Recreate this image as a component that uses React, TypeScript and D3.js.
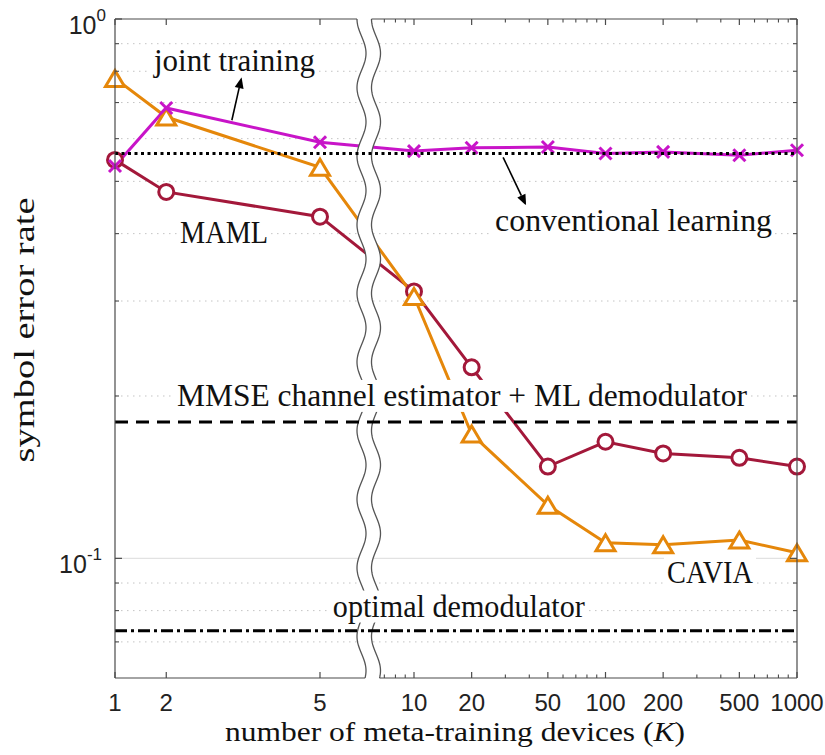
import React from "react";
import * as d3 from "d3";

// ---------- data ----------
const kValues = [1, 2, 5, 10, 20, 50, 100, 200, 500, 1000];
const kTickLabels = ["1", "2", "5", "10", "20", "50", "100", "200", "500", "1000"];
const mamlSER = [0.548, 0.478, 0.43, 0.3126, 0.226, 0.148, 0.1645, 0.1565, 0.1536, 0.148];
const caviaSER = [0.776, 0.658, 0.531, 0.3058, 0.17, 0.1255, 0.1069, 0.106, 0.1081, 0.1024];
const jointSER = [0.534, 0.684, 0.591, 0.569, 0.577, 0.579, 0.563, 0.567, 0.559, 0.571];
const conventionalSER = 0.563;
const mmseSER = 0.179;
const optimalSER = 0.0734;
const yMajorTicks = [0.1, 1];
const yMajorLabels = [{ base: "10", exp: "-1" }, { base: "10", exp: "0" }];
const yMinorTicks = [0.07, 0.08, 0.09, 0.2, 0.3, 0.4, 0.5, 0.6, 0.7, 0.8, 0.9];
const xMinorTicksRight = [7, 8, 9, 30, 40, 60, 70, 80, 90, 300, 400, 600, 700, 800, 900];

// annotations in data coordinates (K, SER)
const labelJoint = { k: 1.76, v: 0.8, text: "joint training" };
const labelMAML = { k: 2.27, v: 0.384, text: "MAML" };
const labelConv = { k: 26.5, v: 0.405, text: "conventional learning" };
const labelMMSE = { k: 2.21, v: 0.1917, text: "MMSE channel estimator + ML demodulator" };
const labelCAVIA = { k: 209.5, v: 0.09, text: "CAVIA" };
const labelOpt = { k: 5.25, v: 0.078, text: "optimal demodulator" };
const arrowJoint = { from: [3.28, 0.649], to: [3.47, 0.78] };
const arrowConv = { from: [29.2, 0.554], to: [38.5, 0.451] };

// ---------- layout ----------
const W = 825, H = 755;
const L = 115, R = 797, T = 19, B = 678;
const SERIF = "'Liberation Serif', 'Times New Roman', serif";
const SANS = "'Liberation Sans', Arial, sans-serif";
const ORANGE = "#E5870A";
const RED = "#A3183A";
const MAGENTA = "#C814C8";

const y = d3.scaleLog().domain([0.06, 1]).range([B, T]);
const xLeft = d3.scaleLinear().domain([1, 5]).range([115, 320]);
const xRight = d3.scaleLog().domain([10, 1000]).range([414, 797]);
const xPos = (k: number) => (k < 6.5 ? xLeft(k) : xRight(k));

// axis-break waves
const waveCx = 361.5, waveA = 4.5, waveP = 68.6, waveGap = 14.5;
const waveL = (yy: number) => waveCx - waveA * Math.cos((2 * Math.PI * (yy - T)) / waveP);
const waveR = (yy: number) => waveL(yy) + waveGap;
const wavePts = d3.range(T, B + 0.01, 1);

function Label({ k, v, text, tl, fs = 31 }: any) {
  const x = xPos(k);
  const by = y(v);
  return (
    <g>
      <rect x={x - 3} y={by - 26} width={tl + 6} height={32} fill="#fff" />
      <text x={x} y={by} fontFamily={SERIF} fontSize={fs} textLength={tl} lengthAdjust="spacingAndGlyphs" fill="#111">
        {text}
      </text>
    </g>
  );
}

function Arrow({ from, to }: any) {
  const x1 = xPos(from[0]), y1 = y(from[1]);
  const x2 = xPos(to[0]), y2 = y(to[1]);
  const ang = Math.atan2(y2 - y1, x2 - x1);
  const hl = 11, hw = 4.5;
  const bx = x2 - hl * Math.cos(ang), by = y2 - hl * Math.sin(ang);
  const px = -Math.sin(ang), py = Math.cos(ang);
  return (
    <g>
      <line x1={x1} y1={y1} x2={bx} y2={by} stroke="#000" strokeWidth={1.6} />
      <polygon
        points={`${x2},${y2} ${bx + px * hw},${by + py * hw} ${bx - px * hw},${by - py * hw}`}
        fill="#000"
      />
    </g>
  );
}

export default function App() {
  const line = d3
    .line<[number, number]>()
    .x((d) => xPos(d[0]))
    .y((d) => y(d[1]));
  const mk = (vals: number[]) => kValues.map((k, i) => [k, vals[i]] as [number, number]);

  const breakPath =
    wavePts.map((yy, i) => `${i ? "L" : "M"}${waveL(yy)},${yy}`).join("") +
    wavePts
      .slice()
      .reverse()
      .map((yy) => `L${waveR(yy)},${yy}`)
      .join("") +
    "Z";
  const waveLPath = wavePts.map((yy, i) => `${i ? "L" : "M"}${waveL(yy)},${yy}`).join("");
  const waveRPath = wavePts.map((yy, i) => `${i ? "L" : "M"}${waveR(yy)},${yy}`).join("");

  const axisColor = "#4a4a4a";

  return (
    <svg
      width={W}
      height={H}
      style={{ position: "absolute", left: 0, top: 0, background: "#fff" }}
    >
      <rect x={0} y={0} width={W} height={H} fill="#fff" />
      {/* grid */}
      {yMinorTicks.map((v) => (
        <line key={"g" + v} x1={L} x2={R} y1={y(v)} y2={y(v)} stroke="#c4c4c4" strokeWidth={1} strokeDasharray="1.5 4.5" />
      ))}
      <line x1={L} x2={R} y1={y(0.1)} y2={y(0.1)} stroke="#e2e2e2" strokeWidth={1.2} />

      {/* data lines */}
      <path d={line(mk(mamlSER)) || ""} fill="none" stroke={RED} strokeWidth={3} />
      <path d={line(mk(caviaSER)) || ""} fill="none" stroke={ORANGE} strokeWidth={3} />
      <path d={line(mk(jointSER)) || ""} fill="none" stroke={MAGENTA} strokeWidth={3} />

      {/* markers */}
      {mk(mamlSER).map(([k, v]) => (
        <circle key={"m" + k} cx={xPos(k)} cy={y(v)} r={7.5} fill="#fff" stroke={RED} strokeWidth={3} />
      ))}
      {mk(caviaSER).map(([k, v]) => {
        const cx = xPos(k), cy = y(v);
        return (
          <polygon
            key={"c" + k}
            points={`${cx},${cy - 8} ${cx + 9.5},${cy + 8} ${cx - 9.5},${cy + 8}`}
            fill="#fff"
            stroke={ORANGE}
            strokeWidth={3}
            strokeLinejoin="miter"
          />
        );
      })}
      {mk(jointSER).map(([k, v]) => {
        const cx = xPos(k), cy = y(v), s = 6;
        return (
          <g key={"j" + k} stroke={MAGENTA} strokeWidth={3}>
            <line x1={cx - s} y1={cy - s} x2={cx + s} y2={cy + s} />
            <line x1={cx - s} y1={cy + s} x2={cx + s} y2={cy - s} />
          </g>
        );
      })}

      {/* axis break */}
      <path d={breakPath} fill="#fff" stroke="none" />
      <path d={waveLPath} fill="none" stroke="#555" strokeWidth={1.3} />
      <path d={waveRPath} fill="none" stroke="#555" strokeWidth={1.3} />

      {/* reference lines */}
      <line x1={L} x2={R} y1={y(conventionalSER)} y2={y(conventionalSER)} stroke="#000" strokeWidth={3} strokeDasharray="3 3.5" />
      <line x1={L} x2={R} y1={y(mmseSER)} y2={y(mmseSER)} stroke="#000" strokeWidth={3} strokeDasharray="13 8" />
      <line x1={L} x2={R} y1={y(optimalSER)} y2={y(optimalSER)} stroke="#000" strokeWidth={3} strokeDasharray="12 4 3 4" />

      {/* axes */}
      <line x1={L} x2={L} y1={T} y2={B} stroke={axisColor} strokeWidth={1.2} />
      <line x1={R} x2={R} y1={T} y2={B} stroke={axisColor} strokeWidth={1.2} />
      <line x1={L} x2={waveL(T)} y1={T} y2={T} stroke={axisColor} strokeWidth={1.2} />
      <line x1={waveR(T)} x2={R} y1={T} y2={T} stroke={axisColor} strokeWidth={1.2} />
      <line x1={L} x2={waveL(B)} y1={B} y2={B} stroke={axisColor} strokeWidth={1.2} />
      <line x1={waveR(B)} x2={R} y1={B} y2={B} stroke={axisColor} strokeWidth={1.2} />

      {/* x ticks */}
      {kValues.map((k) => (
        <g key={"xt" + k} stroke={axisColor} strokeWidth={1.2}>
          <line x1={xPos(k)} x2={xPos(k)} y1={B} y2={B - 6} />
          <line x1={xPos(k)} x2={xPos(k)} y1={T} y2={T + 6} />
        </g>
      ))}
      {xMinorTicksRight.map((k) => (
        <g key={"xm" + k} stroke={axisColor} strokeWidth={1.1}>
          <line x1={xRight(k)} x2={xRight(k)} y1={B} y2={B - 3.5} />
          <line x1={xRight(k)} x2={xRight(k)} y1={T} y2={T + 3.5} />
        </g>
      ))}
      {kValues.map((k, i) => (
        <text key={"xl" + k} x={xPos(k)} y={711} textAnchor="middle" fontFamily={SANS} fontSize={24} fill="#222">
          {kTickLabels[i]}
        </text>
      ))}

      {/* y ticks */}
      {yMajorTicks.map((v) => (
        <g key={"yt" + v} stroke={axisColor} strokeWidth={1.2}>
          <line x1={L} x2={L + 7} y1={y(v)} y2={y(v)} />
          <line x1={R} x2={R - 7} y1={y(v)} y2={y(v)} />
        </g>
      ))}
      {yMinorTicks.map((v) => (
        <g key={"ym" + v} stroke={axisColor} strokeWidth={1.1}>
          <line x1={L} x2={L + 4} y1={y(v)} y2={y(v)} />
          <line x1={R} x2={R - 4} y1={y(v)} y2={y(v)} />
        </g>
      ))}
      {yMajorTicks.map((v, i) => (
        <text key={"yl" + v} x={i === 0 ? 102 : 106} y={y(v) + 15} textAnchor="end" fontFamily={SANS} fontSize={25} fill="#222">
          {yMajorLabels[i].base}
          <tspan fontSize={17} dy={-13}>
            {yMajorLabels[i].exp}
          </tspan>
        </text>
      ))}

      {/* annotations */}
      <Arrow {...arrowJoint} />
      <Arrow {...arrowConv} />
      <Label {...labelJoint} tl={161} />
      <Label {...labelMAML} tl={88} />
      <Label {...labelConv} tl={277} />
      <Label {...labelMMSE} tl={570} />
      <Label {...labelCAVIA} tl={86} />
      <Label {...labelOpt} tl={252} />

      {/* axis labels */}
      <text x={225} y={741} fontFamily={SERIF} fontSize={27} textLength={460} lengthAdjust="spacingAndGlyphs" fill="#111">
        number of meta-training devices (<tspan fontStyle="italic">K</tspan>)
      </text>
      <text
        transform="translate(34,330) rotate(-90)"
        textAnchor="middle"
        fontFamily={SERIF}
        fontSize={30}
        textLength={265}
        lengthAdjust="spacingAndGlyphs"
        fill="#111"
      >
        symbol error rate
      </text>
    </svg>
  );
}
